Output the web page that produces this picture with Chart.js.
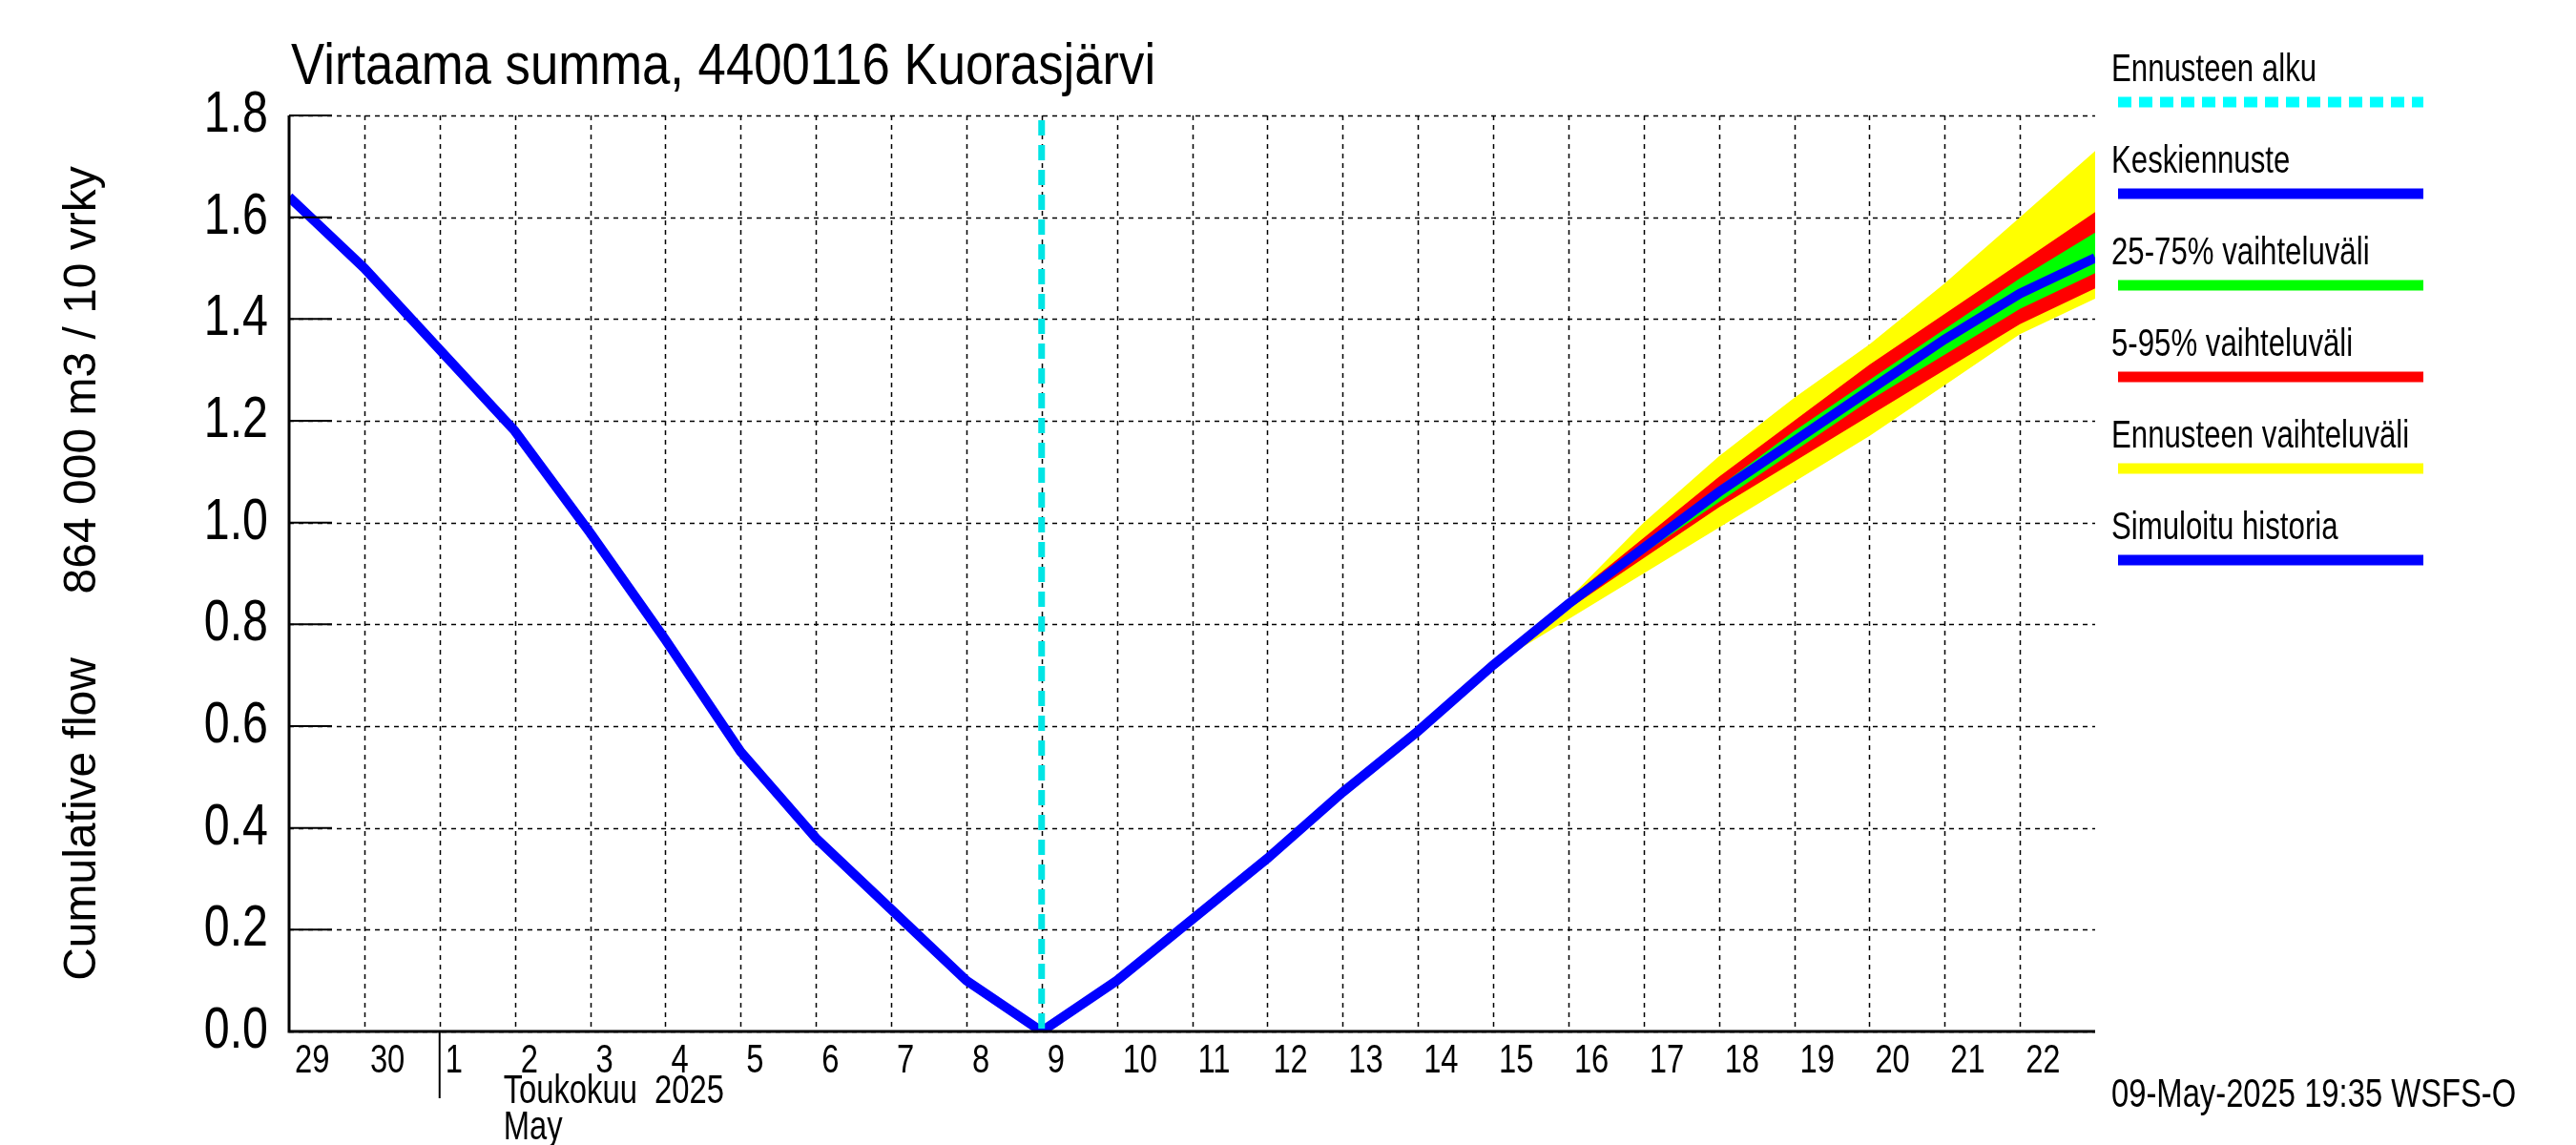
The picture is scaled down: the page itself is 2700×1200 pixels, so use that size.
<!DOCTYPE html>
<html><head><meta charset="utf-8">
<script src="https://cdn.jsdelivr.net/npm/chart.js@4"></script>
<style>html,body{margin:0;padding:0;background:#fff}#w{width:2700px;height:1200px}</style>
</head><body><div id="w"><canvas id="c"></canvas></div>
<script>
const dayLabels=['29','30','1','2','3','4','5','6','7','8','9','10','11','12','13','14','15','16','17','18','19','20','21','22'];
const yTicks=[0,0.2,0.4,0.6,0.8,1.0,1.2,1.4,1.6,1.8];
const simDays=[0,1,2,3,4,5,6,7,8,9,10];
const simVals=[1.64,1.50,1.34,1.18,0.98,0.77,0.55,0.38,0.24,0.10,0.0];
const fcDays=[10,11,12,13,14,15,16,17,18,19,20,21,22,23,24];
const fcMean=[0.0,0.10,0.22,0.34,0.47,0.59,0.72,0.84,0.95,1.06,1.16,1.26,1.36,1.45,1.52];
const bandDays=[16,17,18,19,20,21,22,23,24];
const yellowHi=[0.72,0.85,1.00,1.13,1.245,1.35,1.47,1.60,1.73];
const yellowLo=[0.72,0.81,0.90,0.99,1.08,1.17,1.27,1.37,1.44];
const redHi=[0.72,0.85,0.97,1.09,1.20,1.31,1.41,1.51,1.61];
const redLo=[0.72,0.83,0.93,1.03,1.12,1.21,1.30,1.39,1.46];
const greenHi=[0.72,0.85,0.96,1.07,1.18,1.28,1.38,1.48,1.57];
const greenLo=[0.72,0.84,0.94,1.04,1.14,1.24,1.33,1.42,1.49];
const forecastStart=10;
const legendItems=[['Ennusteen alku','#00ffff',true],['Keskiennuste','#0000ff'],['25-75% vaihteluväli','#00ff00'],['5-95% vaihteluväli','#ff0000'],['Ennusteen vaihteluväli','#ffff00'],['Simuloitu historia','#0000ff']];

const pts=(xs,ys)=>xs.map((x,i)=>({x,y:ys[i]}));
const band=(lo,hi,col,ord)=>[
 {data:pts(bandDays,hi),borderWidth:0,pointRadius:0,fill:false,backgroundColor:col,order:ord},
 {data:pts(bandDays,lo),borderWidth:0,pointRadius:0,fill:'-1',backgroundColor:col,order:ord}];
const NF='"Liberation Sans",Arial,sans-serif';
function narrow(c,txt,x,y,font,align,sx){c.save();c.font=font;c.translate(x,y);c.scale(sx||0.78,1);c.textAlign=align||'left';c.fillText(txt,0,0);c.restore();}
const plug={id:'deco',
 beforeDatasetsDraw(ch){const c=ch.ctx,a=ch.chartArea,xs=ch.scales.x,ys=ch.scales.y;
  c.save();c.strokeStyle='#000';c.lineWidth=1.5;c.setLineDash([5,5]);
  for(let d=1;d<24;d++){const x=Math.round(xs.getPixelForValue(d))+.5;c.beginPath();c.moveTo(x,a.top);c.lineTo(x,a.bottom);c.stroke();}
  yTicks.forEach(v=>{const y=Math.round(ys.getPixelForValue(v))+.5;c.beginPath();c.moveTo(a.left,y);c.lineTo(a.right,y);c.stroke();});
  c.restore();},
 afterDatasetsDraw(ch){const c=ch.ctx,a=ch.chartArea,xs=ch.scales.x,ys=ch.scales.y;
  c.save();
  const fx=xs.getPixelForValue(forecastStart);
  c.strokeStyle='#00e5e5';c.lineWidth=7;c.setLineDash([16,10]);
  c.beginPath();c.moveTo(fx,a.top+5);c.lineTo(fx,a.bottom);c.stroke();c.setLineDash([]);
  c.strokeStyle='#000';c.lineWidth=3;
  c.beginPath();c.moveTo(a.left,a.top);c.lineTo(a.left,a.bottom);c.lineTo(a.right,a.bottom);c.stroke();
  c.lineWidth=2;
  yTicks.forEach(v=>{const y=ys.getPixelForValue(v);c.beginPath();c.moveTo(a.left,y);c.lineTo(a.left+45,y);c.stroke();});
  c.fillStyle='#000';c.textBaseline='middle';
  yTicks.forEach(v=>narrow(c,v.toFixed(1),a.left-22,ys.getPixelForValue(v),'62px '+NF,'right'));
  c.textBaseline='top';
  dayLabels.forEach((l,i)=>narrow(c,l,xs.getPixelForValue(i)+6,a.bottom+10,'42px '+NF));
  const mx=xs.getPixelForValue(2);
  c.beginPath();c.moveTo(mx,a.bottom);c.lineTo(mx,a.bottom+70);c.stroke();
  narrow(c,'Toukokuu  2025',xs.getPixelForValue(3)-12,a.bottom+42,'42px '+NF);
  narrow(c,'May',xs.getPixelForValue(3)-12,a.bottom+80,'42px '+NF);
  c.textBaseline='alphabetic';
  narrow(c,'Virtaama summa, 4400116 Kuorasjärvi',305,88,'62px '+NF,'left',0.85);
  c.save();c.translate(100,(a.top+a.bottom)/2);c.rotate(-Math.PI/2);c.textAlign='center';
  c.font='48px '+NF;c.fillText('Cumulative flow     864 000 m3 / 10 vrky',0,0);c.restore();
  legendItems.forEach((it,i)=>{const y=85+i*96;c.fillStyle='#000';narrow(c,it[0],2213,y,'40px '+NF);
   c.strokeStyle=it[1];c.lineWidth=11;if(it[2])c.setLineDash([14,8]);else c.setLineDash([]);
   c.beginPath();c.moveTo(2220,y+22);c.lineTo(2540,y+22);c.stroke();});
  c.setLineDash([]);c.fillStyle='#000';
  narrow(c,'09-May-2025 19:35 WSFS-O',2213,1160,'42px '+NF);
  c.restore();}
};
new Chart(document.getElementById('c'),{type:'line',
 data:{datasets:[...band(yellowLo,yellowHi,'#ffff00',3),...band(redLo,redHi,'#ff0000',2),...band(greenLo,greenHi,'#00ff00',1),
  {data:pts(simDays,simVals),borderColor:'#0000ff',borderWidth:10,pointRadius:0,fill:false,order:0},
  {data:pts(fcDays,fcMean),borderColor:'#0000ff',borderWidth:10,pointRadius:0,fill:false,order:0}]},
 options:{responsive:true,maintainAspectRatio:false,animation:false,
  layout:{padding:{left:303,right:504,top:121,bottom:119}},
  plugins:{legend:{display:false},tooltip:{enabled:false}},
  scales:{x:{type:'linear',min:0,max:24,display:false},y:{min:0,max:1.8,display:false}}},
 plugins:[plug]});
</script></body></html>
